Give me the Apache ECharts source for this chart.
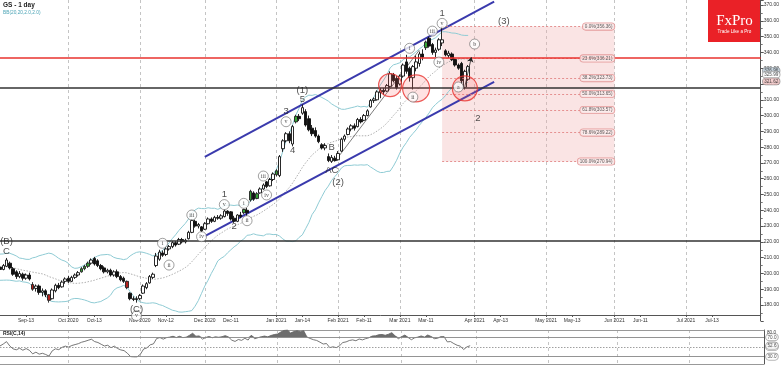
<!DOCTYPE html>
<html><head><meta charset="utf-8">
<script src="https://cdn.jsdelivr.net/npm/echarts@6/dist/echarts.min.js"></script>
<style>html,body{margin:0;padding:0;background:#fff}#c{width:782px;height:366px}</style>
</head><body><div id="c"></div>
<script>
// ---------- data ----------
const holidays = ['2020-09-07','2020-11-26','2020-12-25','2021-01-01','2021-01-18','2021-02-15'];
// closes of the off-screen August 2020 bars, only used to warm up the 20-day bands / RSI
const leadInCloses = [199.6,199.5,203.5,203.0,205.0,210.0,210.7,211.0,206.5,206.0,203.5,200.0,198.5,196.5,196.0,201.0,203.0,203.0,207.0,207.5,204.9];
// daily bars from 2020-09-01: [open, close, low, high]
const ohlc = [
[204,202.5,201,205.5],[202.5,205,202,206],[204.5,208.5,204,209.8],[206.5,203.5,202.5,207.5],[203,199.5,198.5,204],
[201,198,196.5,202],[198,200,197,201.5],[199.5,197,195.5,200.5],[197,199,196,200],[199,196.5,195.5,200.5],
[193,190,189,194.5],[190.5,192,188.5,193],[192,188,186.5,193],[188,189,185.5,190.5],[189,186.5,185,190],
[186.5,183,181.5,187],[184,189.5,183.5,190.5],[189,192.5,188,193.5],[192.5,191,190,194],[191.5,194.5,191,195.5],
[195,196.5,193.5,197.5],[197,195,194,198.5],[195,197.5,194.5,198.5],[197.5,199,196.5,200],[199,200.5,198,201.5],
[201,203,200.5,204],[203,204.5,202,205.5],[204.5,206.5,203.5,207.5],[206.5,208.5,205.5,209.5],[209.5,206,205,210.5],
[208,205,204,209],[205,203,202,206],[203.5,201,200,204.5],[201,202,200,203],[202,199,198,203],
[199,201,198,202],[201,198,197,202.5],[198,196,195,199],[197,195,194,198],[195,191,190,195.5],
[187.5,184,183,188],[184,183.5,182.5,185.5],[184,183.5,181.5,185.5],[184,186,183,187],[187.5,192,187,193],
[191,193.5,190,194.5],[194,198,193.5,199],[197.5,199.5,196.5,200.5],[205,211,204,213],[209,213.5,208,215],
[213,211.5,210.5,214.5],[212,215.5,211,216.5],[215.5,217,214.5,218],[217,219.5,216,220.5],[219.5,218,217,220.5],
[218.5,221.5,218,222.5],[221.5,220,219,222.5],[220,221,219,222],[222,226,221.5,227],[226,233.5,225.5,234.5],
[233,230,229,234],[230,231,228.5,232],[229.5,227,226,230],[228,231.5,227.5,232.5],[231.5,234.5,231,235.5],
[234.5,233,232,235.5],[233,235.5,232.5,236.5],[235.5,235,234,237],[235,236.5,234,237.5],[236,239.5,235.5,240.5],
[239.5,238,236.5,240],[239,234.5,233.5,239.5],[235,233,232,236.5],[233,237,232.5,237.5],[237,236,235,239],
[238.5,240.5,237.5,241],[240,238.5,236.5,241.5],[246.5,252,245.5,253],[251,247,246,252],[247.5,250.5,247,251.5],
[251,253.5,250.5,254.5],[253.5,256,253,257],[258,255,254,258.5],[255.5,259.5,255,260.5],[259.5,263,258.5,264],
[262.5,265,261.5,266],[262,274,261,275],[279,284,277,285],[284,288.5,283,289.5],[288.5,284,282.5,290],
[282,293,280.5,294],[296,299.5,295,300.5],[299.5,298,296.5,301],[301.5,305,300.5,307],[302.5,294,293,304],
[298,291,290,300],[292,288.5,287,294],[290.5,287,286,292.5],[287,283.5,282.5,288],[281.5,279.5,278.5,282.5],
[279.5,281,278,282.5],[274,271.5,270.5,276],[271,273.5,270,275],[273,271.5,270.94,274.5],[272,276,271.5,277.5],
[277.5,285,277,286],[285,287,283.5,288],[288,291.5,287.5,292.5],[291.5,293.5,290,294.5],[293.5,292,290.5,295],
[293,297.5,292.5,298.5],[297.5,296,295,299],[297,300,296.5,301],[300,303,299.5,304],[305.5,309.5,305,310.5],
[309.5,310.5,308,311.5],[310,315,309.5,316],[314.5,316,311,317.5],[316,315,313,317.5],[315.5,319,315,320],
[318.5,326.5,317.5,328],[326,322,321,327],[323.5,317.5,316.5,325],[320,325,319,326],[325,332,324,333],
[334,328,326.5,338.5],[330,324,321.5,331],[324,331,316.5,332],[330,334,328,338],[333,339,331,340.5],
[339,337,335,342],[343,346.5,341.5,347.5],[349,344,343,350],[345,340,338.5,346],[340,341.5,337,343],
[342,348,341,349],[346,348,344,356.36],[341,338.5,337.5,342],[338,339.5,336.5,341],[339,335.5,334.5,340],
[335.5,332,331,336.5],[332,330,329,333],[333,322,320,334],[318,328,316.5,329],[323,331,322,332]
];
const greenBars = [25,26,27,75,77,79,85,91,131];
const redBars = [10,15,39];
const tickLabels = [
 ['2020-09-14','Sep-13'],['2020-10-01','Oct 2020'],['2020-10-13','Oct-13'],['2020-11-02','Nov 2020'],['2020-11-12','Nov-12'],
 ['2020-12-01','Dec 2020'],['2020-12-11','Dec-11'],['2021-01-04','Jan 2021'],['2021-01-14','Jan-14'],['2021-02-01','Feb 2021'],
 ['2021-02-11','Feb-11'],['2021-03-01','Mar 2021'],['2021-03-11','Mar-11'],['2021-04-01','Apr 2021'],['2021-04-13','Apr-13'],
 ['2021-05-03','May 2021'],['2021-05-13','May-13'],['2021-06-01','Jun 2021'],['2021-06-11','Jun-11'],['2021-07-01','Jul 2021'],['2021-07-13','Jul-13']];
const priceLevels = [
 {y:336.6, color:'#e8322e', w:1.6},
 {y:317.8, color:'#333', w:1.6},
 {y:220.5, color:'#333', w:1.6}];
// right-axis price tags: [text, price, background]
const priceTags = [['326.96',328.4,'#c3d3e0'],['325.99',325.9,'#ffffff'],['321.62',321.6,'#f2c4c4']];
const fibStart = 136, fibEnd = 189;
const fibLevels = [[0,356.36],[23.6,336.21],[38.2,323.73],[50.0,313.65],[61.8,303.57],[78.6,289.22],[100.0,270.94]];
// channel & trend lines: [barIndex, price]
const channelUpper = [[63,273.8],[152,372.1]];
const channelLower = [[63,223.7],[152,321.4]];
const trendLine = [[103,270.9],[129,341.5]];
const arrowLine = [[143,318.5],[145.4,337]];
// wave labels: [text, barIndex, price]
const circledLabels = [['v',41.9,173.2],['i',50.0,219.1],['ii',51.5,205.3],['iii',59.2,237.0],['iv',62.3,223.3],
 ['v',69.4,243.6],['i',75.3,244.4],['ii',76.0,233.4],['iii',81.2,261.7],['iv',82.2,249.7],['v',88.3,296.1],
 ['i',125.6,342.6],['ii',127.3,311.7],['iii',132.9,353.5],['iv',134.5,333.9],['v',136.4,358.4],['a',141.3,318.1],['b',145.8,345.3]];
const textLabels = [['(B)',2.2,220.5],['C',2.2,213.8],['(C)',42.1,177.1],['1',69.4,250.1],['2',71.5,229.6],['3',88.3,302.4],
 ['4',90.0,278.2],['(1)',93.1,315.7],['5',93.1,310.3],['B',102.1,279.9],['A',101.2,265.5],['C',103.2,265.5],['(2)',103.6,257.5],
 ['1',136.3,364.7],['(3)',155.2,359.4],['2',147.2,298.2]];
const redCircles = [[120.4,319.3,23],[128.1,317.2,27],[143.1,317.2,25]];
const rsiTagLevels = [70,50,30];

// ---------- helpers ----------
function buildDates(){
  const out=[]; const d=new Date(Date.UTC(2020,8,1)); const end=Date.UTC(2021,7,3);
  while(d.getTime()<=end){
    const wd=d.getUTCDay(); const s=d.toISOString().slice(0,10);
    if(wd!==0&&wd!==6&&holidays.indexOf(s)<0) out.push(s);
    d.setUTCDate(d.getUTCDate()+1);
  }
  return out;
}
const dates = buildDates();
const LASTX = dates.length-1;
const labelMap = {}; tickLabels.forEach(t=>labelMap[t[0]]=t[1]);
const monthStart = {}; tickLabels.forEach(t=>{ if(/ 20/.test(t[1])) monthStart[t[0]]=true; });
const LEAD = leadInCloses.length;
const allCloses = leadInCloses.concat(ohlc.map(r=>r[1]));
const bbUp=[], bbMid=[], bbLow=[];
ohlc.forEach((r,k)=>{
  const e=LEAD+k, w=allCloses.slice(e-19,e+1);
  const m=w.reduce((a,b)=>a+b,0)/w.length;
  const sd=Math.sqrt(w.reduce((a,b)=>a+(b-m)*(b-m),0)/w.length);
  bbUp.push(+(m+2*sd).toFixed(2)); bbMid.push(+m.toFixed(2)); bbLow.push(+(m-2*sd).toFixed(2));
});
// RSI(14), Wilder smoothing
const rsiAll=[]; let ag=0, al=0;
for(let j=1;j<allCloses.length;j++){
  const ch=allCloses[j]-allCloses[j-1], g=Math.max(ch,0), l=Math.max(-ch,0);
  if(j<=14){ ag+=g/14; al+=l/14; } else { ag=(ag*13+g)/14; al=(al*13+l)/14; }
  rsiAll[j]= al===0?100:100-100/(1+ag/al);
}
const rsi = ohlc.map((r,k)=>+rsiAll[LEAD+k].toFixed(2));
const rsiBase = rsi.map(()=>70);
const rsiOver = rsi.map(v=>+Math.max(0,v-70).toFixed(2));
const rsiTags = rsiTagLevels.map(v=>[v.toFixed(1),v]).concat([[rsi[rsi.length-1].toFixed(1), rsi[rsi.length-1]]]);

const candleData = ohlc.map((r,k)=>{
  if(greenBars.includes(k)) return {value:r,itemStyle:{color:'#35a535',color0:'#35a535',borderColor:'#222',borderColor0:'#222'}};
  if(redBars.includes(k)) return {value:r,itemStyle:{color:'#b3211d',color0:'#b3211d',borderColor:'#222',borderColor0:'#222'}};
  return r;
});

const FONT='Liberation Sans';
const chart = echarts.init(document.getElementById('c'), null, {renderer:'canvas'});
const xCommon = {
  type:'category', data:dates, boundaryGap:false,
  splitLine:{show:true, interval:(i,v)=>!!monthStart[v], lineStyle:{color:'#b5b5b5', type:[3,3], width:0.8}}
};
const tagLabel = (bg)=>({show:true, position:'right', distance:2, fontSize:4.6, color:'#222', fontFamily:FONT,
  backgroundColor:bg, borderColor:'#777', borderWidth:0.6, borderRadius:3, padding:[1,1.5,0.5,1.5], formatter:p=>p.name});
chart.setOption({
  animation:false,
  grid:[{left:0,right:18,top:0,bottom:45.2},{left:0,right:18,top:330,bottom:2}],
  xAxis:[
    Object.assign({}, xCommon, {gridIndex:0, offset:-5.8,
      axisLine:{lineStyle:{color:'#555',width:1}},
      axisTick:{show:true, interval:(i,v)=>!!labelMap[v], length:2, lineStyle:{color:'#555'}},
      axisLabel:{interval:(i,v)=>!!labelMap[v], formatter:v=>labelMap[v]||'', fontSize:5, color:'#333', margin:3, fontFamily:FONT}}),
    Object.assign({}, xCommon, {gridIndex:1, position:'top',
      axisLine:{lineStyle:{color:'#999',width:1}}, axisTick:{show:false}, axisLabel:{show:false}})
  ],
  yAxis:[
    {type:'value', gridIndex:0, position:'right', min:170, max:373.2, interval:10,
     axisLine:{show:true,lineStyle:{color:'#555'}}, axisTick:{show:true,length:3,lineStyle:{color:'#555'}},
     minorTick:{show:true,splitNumber:2,length:2,lineStyle:{color:'#777'}},
     splitLine:{show:false},
     axisLabel:{showMaxLabel:false, showMinLabel:false, fontSize:5, color:'#333', margin:3, fontFamily:FONT, formatter:v=>v.toFixed(2)}},
    {type:'value', gridIndex:1, position:'right', min:15, max:85, interval:5,
     axisLine:{show:true,lineStyle:{color:'#555'}}, axisTick:{show:false}, splitLine:{show:false},
     axisLabel:{fontSize:4.6, color:'#333', margin:3, fontFamily:FONT, formatter:v=>(v===80)?v.toFixed(1):''}}
  ],
  graphic:[
    {type:'text', left:3, top:2, style:{text:'GS - 1 day', font:'bold 6.5px "Liberation Sans"', fill:'#222'}},
    {type:'text', left:3, top:10, style:{text:'BB(20,20,2.0,2.0)', font:'4.8px "Liberation Sans"', fill:'#4aa3b5'}},
    {type:'rect', shape:{x:708,y:0,width:53,height:42}, style:{fill:'#ea2127'}},
    {type:'text', x:734.5, y:21.5, style:{text:'FxPro', font:'15px "Liberation Serif"', fill:'#fff', align:'center', verticalAlign:'middle'}},
    {type:'text', x:734.5, y:31.8, style:{text:'Trade Like a Pro', font:'4.6px "Liberation Sans"', fill:'#fff', align:'center', verticalAlign:'middle'}},
    {type:'text', left:3, top:331.5, style:{text:'RSI(C,14)', font:'bold 5px "Liberation Sans"', fill:'#222'}}
  ],
  series:[
    {type:'line', name:'fib', xAxisIndex:0, yAxisIndex:0, data:[], silent:true,
     markArea:{silent:true, itemStyle:{color:'rgba(238,170,170,0.32)'}, data:[[{coord:[fibStart,fibLevels[0][1]]},{coord:[fibEnd,fibLevels[fibLevels.length-1][1]]}]]},
     markLine:{silent:true, symbol:'none', label:{show:false}, lineStyle:{color:'#e07a7a', type:[2,2], width:0.8},
       data:fibLevels.map(f=>[{coord:[fibStart,f[1]]},{coord:[fibEnd,f[1]]}])}},
    {type:'line', name:'bbUp', data:bbUp, symbol:'none', lineStyle:{color:'#8fcbd4',width:1}, z:2},
    {type:'line', name:'bbLow', data:bbLow, symbol:'none', lineStyle:{color:'#8fcbd4',width:1}, z:2},
    {type:'line', name:'bbMid', data:bbMid, symbol:'none', lineStyle:{color:'#9a9a9a',width:0.8,type:[1.5,1.5]}, z:2},
    {type:'line', name:'chU', data:channelUpper, symbol:'none', lineStyle:{color:'#3a3aad',width:2}, z:3},
    {type:'line', name:'chL', data:channelLower, symbol:'none', lineStyle:{color:'#3a3aad',width:2}, z:3},
    {type:'line', name:'trend', data:trendLine, symbol:'none', lineStyle:{color:'#444',width:0.7}, z:3},
    {type:'candlestick', name:'GS', data:candleData, barWidth:3, z:4,
     itemStyle:{color:'#fff', color0:'#111', borderColor:'#111', borderColor0:'#111', borderWidth:0.9},
     markLine:{silent:true, symbol:'none', label:{show:false},
       data:priceLevels.map(p=>({yAxis:p.y, lineStyle:{color:p.color,width:p.w,type:'solid'}}))}},
    {type:'line', name:'arrow', data:[], markLine:{silent:true, label:{show:false}, lineStyle:{color:'#222',width:0.8,type:'solid'},
      data:[[{coord:arrowLine[0],symbol:'none'},{coord:arrowLine[1],symbol:'arrow',symbolSize:5}]]}},
    {type:'scatter', name:'circles', data:redCircles.map(c=>({value:[c[0],c[1]], symbolSize:c[2]})), z:5, silent:true,
     itemStyle:{color:'rgba(255,90,90,0.22)', borderColor:'#e8322e', borderWidth:1.2}},
    {type:'scatter', name:'circled', data:circledLabels.map(c=>({value:[c[1],c[2]], name:c[0]})), symbolSize:10, z:6, clip:false, silent:true,
     itemStyle:{color:'#fff', borderColor:'#555', borderWidth:0.7},
     label:{show:true, position:'inside', formatter:p=>p.name, fontSize:6, color:'#222', fontFamily:'Liberation Serif'}},
    {type:'scatter', name:'waves', data:textLabels.map(c=>({value:[c[1],c[2]], name:c[0]})), symbolSize:1, z:6, clip:false, silent:true,
     itemStyle:{color:'rgba(0,0,0,0)'},
     label:{show:true, position:'inside', formatter:p=>p.name, fontSize:9.5, color:'#222', fontFamily:FONT}},
    {type:'scatter', name:'fibLabels', data:fibLevels.map(f=>({value:[fibEnd,f[1]], name:f[0].toFixed(1)+'%('+f[1].toFixed(2)+')'})), symbolSize:0, z:7, silent:true,
     label:{show:true, position:'left', distance:0, formatter:p=>p.name, fontSize:4.6, color:'#333', fontFamily:FONT,
       backgroundColor:'#fbeeee', borderColor:'#e08a8a', borderWidth:0.8, borderRadius:3, padding:[1,2,0.5,2]}},
    {type:'scatter', name:'priceTags', data:priceTags.map(t=>({value:[LASTX,t[1]], name:t[0], label:tagLabel(t[2])})), symbolSize:0, z:8, clip:false, silent:true},
    // RSI panel
    {type:'line', name:'rsiBase', xAxisIndex:1, yAxisIndex:1, data:rsiBase, stack:'r', symbol:'none', lineStyle:{width:0,opacity:0}, silent:true,
     markLine:{silent:true, symbol:'none', label:{show:false}, data:[
       {yAxis:70, lineStyle:{color:'#888',width:0.9,type:'solid'}},
       {yAxis:50, lineStyle:{color:'#888',width:0.8,type:[1.5,1.5]}},
       {yAxis:30, lineStyle:{color:'#888',width:0.9,type:'solid'}},
       {yAxis:15, lineStyle:{color:'#999',width:1,type:'solid'}}]}},
    {type:'line', name:'rsiOver', xAxisIndex:1, yAxisIndex:1, data:rsiOver, stack:'r', symbol:'none', lineStyle:{width:0}, areaStyle:{color:'#6d6d6d',opacity:1}, silent:true},
    {type:'line', name:'rsi', xAxisIndex:1, yAxisIndex:1, data:rsi, symbol:'none', lineStyle:{color:'#666',width:0.9}, silent:true},
    {type:'scatter', name:'rsiTags', xAxisIndex:1, yAxisIndex:1, data:rsiTags.map(t=>({value:[LASTX,t[1]], name:t[0]})), symbolSize:0, z:8, clip:false, silent:true,
     label:tagLabel('#ffffff')}
  ]
});
</script></body></html>
